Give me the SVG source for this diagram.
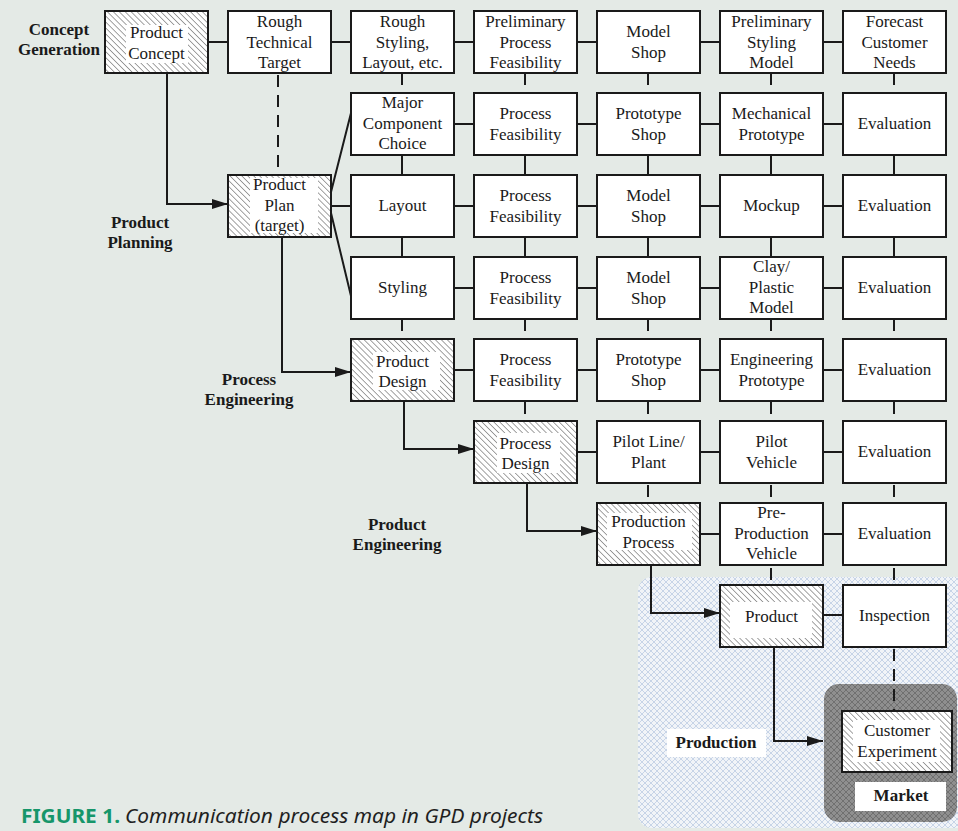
<svg xmlns="http://www.w3.org/2000/svg" width="958" height="831" viewBox="0 0 958 831">
<defs>
<style>
.bx{fill:#fff;stroke:#1a1a1a;stroke-width:2}
.hb{fill:url(#hatch);stroke:none}
.in{fill:#fff;stroke:none}
.fr{fill:none;stroke:#1a1a1a;stroke-width:2}
.t{font-family:"Liberation Serif","Times New Roman",serif;font-size:17px;fill:#1a1a1a;text-anchor:middle}
.lb{font-family:"Liberation Serif","Times New Roman",serif;font-size:17px;font-weight:bold;fill:#1a1a1a;text-anchor:middle}
.c{fill:none;stroke:#1a1a1a;stroke-width:2}
.d{fill:none;stroke:#1a1a1a;stroke-width:2;stroke-dasharray:12 8}
.a{fill:none;stroke:#1a1a1a;stroke-width:2;marker-end:url(#ah)}
</style>
<pattern id="hatch" width="4.2" height="4.2" patternUnits="userSpaceOnUse" patternTransform="rotate(-45)">
<rect width="4.2" height="4.2" fill="#fff"/>
<line x1="0" y1="0" x2="0" y2="4.2" stroke="#333" stroke-width="0.9"/>
</pattern>
<pattern id="xh" width="6" height="6" patternUnits="userSpaceOnUse">
<rect width="6" height="6" fill="#f1f4f8"/>
<path d="M0,0 L6,6 M6,0 L0,6" stroke="#bccbe2" stroke-width="0.8"/>
</pattern>
<pattern id="xhd" width="6" height="6" patternUnits="userSpaceOnUse">
<rect width="6" height="6" fill="#8f8f8f"/>
<path d="M0,0 L6,6 M6,0 L0,6" stroke="#6c6c6c" stroke-width="0.9"/>
</pattern>
<marker id="ah" markerWidth="16" markerHeight="10" refX="16" refY="5" orient="auto" markerUnits="userSpaceOnUse">
<path d="M0,0 L16,5 L0,10 z" fill="#1a1a1a"/>
</marker>
</defs>

<rect x="0" y="0" width="958" height="831" fill="#e4eae6"/>

<g id="regions">
<rect x="638" y="577" width="332" height="251" rx="14" fill="url(#xh)"/>
<rect x="824" y="684" width="133" height="138" rx="15" fill="url(#xhd)"/>
<rect x="667" y="729" width="99" height="28" fill="#fff"/>
<text class="lb" x="716" y="748">Production</text>
<rect x="855" y="782" width="91" height="29" fill="#fff"/>
<text class="lb" x="901" y="801">Market</text>
</g>

<g id="stage-labels">
<text class="lb" x="59" y="35">Concept</text>
<text class="lb" x="59" y="55">Generation</text>
<text class="lb" x="140" y="228">Product</text>
<text class="lb" x="140" y="248">Planning</text>
<text class="lb" x="249" y="385">Process</text>
<text class="lb" x="249" y="405">Engineering</text>
<text class="lb" x="397" y="530">Product</text>
<text class="lb" x="397" y="550">Engineering</text>
</g>

<g id="connectors">
<!-- row 0 horizontals -->
<path class="c" d="M208,42H228M331,42H351M454,42H474M577,42H597M700,42H720M823,42H843"/>
<!-- row 1 -->
<path class="c" d="M454,124H474M577,124H597M700,124H720M823,124H843"/>
<!-- row 2 -->
<path class="c" d="M331,206H351M454,206H474M577,206H597M700,206H720M823,206H843"/>
<!-- row 3 -->
<path class="c" d="M454,288H474M577,288H597M700,288H720M823,288H843"/>
<!-- row 4 -->
<path class="c" d="M454,370H474M577,370H597M700,370H720M823,370H843"/>
<!-- row 5 -->
<path class="c" d="M577,452H597M700,452H720M823,452H843"/>
<!-- row 6 -->
<path class="c" d="M700,534H720M823,534H843"/>
<!-- row 7 -->
<path class="c" d="M823,615H843"/>
<!-- diagonals from Product Plan -->
<path class="c" d="M331,192L351,113M331,213L351,296"/>
<!-- vertical stubs -->
<path class="c" d="M402,73V85M525,73V85M648,73V85M771,73V85M894,73V85"/>
<path class="c" d="M402,155V175M525,155V175M648,155V175M771,155V175M894,155V175"/>
<path class="c" d="M402,237V257M525,237V257M648,237V257M771,237V257M894,237V257"/>
<path class="c" d="M402,319V331M525,319V331M648,319V331M771,319V331M894,319V331"/>
<path class="c" d="M525,402V414M648,402V414M771,402V414M894,402V414"/>
<path class="c" d="M648,485V497M771,485V497M894,485V497"/>
<path class="c" d="M771,568V580M894,568V580"/>
<!-- dashed -->
<path class="d" d="M278,75V175"/>
<path class="d" d="M894,649V710"/>
<!-- arrows -->
<path class="a" d="M167,73V204H228"/>
<path class="a" d="M282,237V372H351"/>
<path class="a" d="M404,401V449H474"/>
<path class="a" d="M527,483V531H597"/>
<path class="a" d="M651,565V613H720"/>
<path class="a" d="M774,647V741H823"/>
</g>

<g id="n-product-concept">
<rect class="hb" x="105" y="11" width="103" height="62"/>
<rect class="in" x="126" y="25" width="62" height="38"/>
<rect class="fr" x="105" y="11" width="103" height="62"/>
<text class="t" x="156.5" y="38">Product</text>
<text class="t" x="156.5" y="59">Concept</text>
</g>
<g id="n-rough-technical-target">
<rect class="bx" x="228" y="11" width="103" height="62"/>
<text class="t" x="279.5" y="27">Rough</text>
<text class="t" x="279.5" y="48">Technical</text>
<text class="t" x="279.5" y="68">Target</text>
</g>
<g id="n-rough-styling">
<rect class="bx" x="351" y="11" width="103" height="62"/>
<text class="t" x="402.5" y="27">Rough</text>
<text class="t" x="402.5" y="48">Styling,</text>
<text class="t" x="402.5" y="68">Layout, etc.</text>
</g>
<g id="n-prelim-process-feasibility">
<rect class="bx" x="474" y="11" width="103" height="62"/>
<text class="t" x="525.5" y="27">Preliminary</text>
<text class="t" x="525.5" y="48">Process</text>
<text class="t" x="525.5" y="68">Feasibility</text>
</g>
<g id="n-model-shop-0">
<rect class="bx" x="597" y="11" width="103" height="62"/>
<text class="t" x="648.5" y="37">Model</text>
<text class="t" x="648.5" y="58">Shop</text>
</g>
<g id="n-prelim-styling-model">
<rect class="bx" x="720" y="11" width="103" height="62"/>
<text class="t" x="771.5" y="27">Preliminary</text>
<text class="t" x="771.5" y="48">Styling</text>
<text class="t" x="771.5" y="68">Model</text>
</g>
<g id="n-forecast-customer-needs">
<rect class="bx" x="843" y="11" width="103" height="62"/>
<text class="t" x="894.5" y="27">Forecast</text>
<text class="t" x="894.5" y="48">Customer</text>
<text class="t" x="894.5" y="68">Needs</text>
</g>

<g id="n-major-component-choice">
<rect class="bx" x="351" y="93" width="103" height="62"/>
<text class="t" x="402.5" y="108">Major</text>
<text class="t" x="402.5" y="129">Component</text>
<text class="t" x="402.5" y="149">Choice</text>
</g>
<g id="n-process-feasibility-1">
<rect class="bx" x="474" y="93" width="103" height="62"/>
<text class="t" x="525.5" y="119">Process</text>
<text class="t" x="525.5" y="140">Feasibility</text>
</g>
<g id="n-prototype-shop-1">
<rect class="bx" x="597" y="93" width="103" height="62"/>
<text class="t" x="648.5" y="119">Prototype</text>
<text class="t" x="648.5" y="140">Shop</text>
</g>
<g id="n-mechanical-prototype">
<rect class="bx" x="720" y="93" width="103" height="62"/>
<text class="t" x="771.5" y="119">Mechanical</text>
<text class="t" x="771.5" y="140">Prototype</text>
</g>
<g id="n-evaluation-1">
<rect class="bx" x="843" y="93" width="103" height="62"/>
<text class="t" x="894.5" y="129">Evaluation</text>
</g>

<g id="n-product-plan">
<rect class="hb" x="228" y="175" width="103" height="62"/>
<rect class="in" x="250" y="178" width="68" height="55"/>
<rect class="fr" x="228" y="175" width="103" height="62"/>
<text class="t" x="279.5" y="190">Product</text>
<text class="t" x="279.5" y="211">Plan</text>
<text class="t" x="279.5" y="231">(target)</text>
</g>
<g id="n-layout">
<rect class="bx" x="351" y="175" width="103" height="62"/>
<text class="t" x="402.5" y="211">Layout</text>
</g>
<g id="n-process-feasibility-2">
<rect class="bx" x="474" y="175" width="103" height="62"/>
<text class="t" x="525.5" y="201">Process</text>
<text class="t" x="525.5" y="222">Feasibility</text>
</g>
<g id="n-model-shop-2">
<rect class="bx" x="597" y="175" width="103" height="62"/>
<text class="t" x="648.5" y="201">Model</text>
<text class="t" x="648.5" y="222">Shop</text>
</g>
<g id="n-mockup">
<rect class="bx" x="720" y="175" width="103" height="62"/>
<text class="t" x="771.5" y="211">Mockup</text>
</g>
<g id="n-evaluation-2">
<rect class="bx" x="843" y="175" width="103" height="62"/>
<text class="t" x="894.5" y="211">Evaluation</text>
</g>

<g id="n-styling">
<rect class="bx" x="351" y="257" width="103" height="62"/>
<text class="t" x="402.5" y="293">Styling</text>
</g>
<g id="n-process-feasibility-3">
<rect class="bx" x="474" y="257" width="103" height="62"/>
<text class="t" x="525.5" y="283">Process</text>
<text class="t" x="525.5" y="304">Feasibility</text>
</g>
<g id="n-model-shop-3">
<rect class="bx" x="597" y="257" width="103" height="62"/>
<text class="t" x="648.5" y="283">Model</text>
<text class="t" x="648.5" y="304">Shop</text>
</g>
<g id="n-clay-plastic-model">
<rect class="bx" x="720" y="257" width="103" height="62"/>
<text class="t" x="771.5" y="272">Clay/</text>
<text class="t" x="771.5" y="293">Plastic</text>
<text class="t" x="771.5" y="313">Model</text>
</g>
<g id="n-evaluation-3">
<rect class="bx" x="843" y="257" width="103" height="62"/>
<text class="t" x="894.5" y="293">Evaluation</text>
</g>

<g id="n-product-design">
<rect class="hb" x="351" y="339" width="103" height="62"/>
<rect class="in" x="373" y="352" width="67" height="38"/>
<rect class="fr" x="351" y="339" width="103" height="62"/>
<text class="t" x="402.5" y="367">Product</text>
<text class="t" x="402.5" y="387">Design</text>
</g>
<g id="n-process-feasibility-4">
<rect class="bx" x="474" y="339" width="103" height="62"/>
<text class="t" x="525.5" y="365">Process</text>
<text class="t" x="525.5" y="386">Feasibility</text>
</g>
<g id="n-prototype-shop-4">
<rect class="bx" x="597" y="339" width="103" height="62"/>
<text class="t" x="648.5" y="365">Prototype</text>
<text class="t" x="648.5" y="386">Shop</text>
</g>
<g id="n-engineering-prototype">
<rect class="bx" x="720" y="339" width="103" height="62"/>
<text class="t" x="771.5" y="365">Engineering</text>
<text class="t" x="771.5" y="386">Prototype</text>
</g>
<g id="n-evaluation-4">
<rect class="bx" x="843" y="339" width="103" height="62"/>
<text class="t" x="894.5" y="375">Evaluation</text>
</g>

<g id="n-process-design">
<rect class="hb" x="474" y="421" width="103" height="62"/>
<rect class="in" x="497" y="433" width="63" height="40"/>
<rect class="fr" x="474" y="421" width="103" height="62"/>
<text class="t" x="525.5" y="449">Process</text>
<text class="t" x="525.5" y="469">Design</text>
</g>
<g id="n-pilot-line-plant">
<rect class="bx" x="597" y="421" width="103" height="62"/>
<text class="t" x="648.5" y="447">Pilot Line/</text>
<text class="t" x="648.5" y="468">Plant</text>
</g>
<g id="n-pilot-vehicle">
<rect class="bx" x="720" y="421" width="103" height="62"/>
<text class="t" x="771.5" y="447">Pilot</text>
<text class="t" x="771.5" y="468">Vehicle</text>
</g>
<g id="n-evaluation-5">
<rect class="bx" x="843" y="421" width="103" height="62"/>
<text class="t" x="894.5" y="457">Evaluation</text>
</g>

<g id="n-production-process">
<rect class="hb" x="597" y="503" width="103" height="62"/>
<rect class="in" x="607" y="513" width="85" height="37"/>
<rect class="fr" x="597" y="503" width="103" height="62"/>
<text class="t" x="648.5" y="527">Production</text>
<text class="t" x="648.5" y="548">Process</text>
</g>
<g id="n-pre-production-vehicle">
<rect class="bx" x="720" y="503" width="103" height="62"/>
<text class="t" x="771.5" y="518">Pre-</text>
<text class="t" x="771.5" y="539">Production</text>
<text class="t" x="771.5" y="559">Vehicle</text>
</g>
<g id="n-evaluation-6">
<rect class="bx" x="843" y="503" width="103" height="62"/>
<text class="t" x="894.5" y="539">Evaluation</text>
</g>

<g id="n-product">
<rect class="hb" x="720" y="585" width="103" height="62"/>
<rect class="in" x="730" y="602" width="82" height="36"/>
<rect class="fr" x="720" y="585" width="103" height="62"/>
<text class="t" x="771.5" y="622">Product</text>
</g>
<g id="n-inspection">
<rect class="bx" x="843" y="585" width="103" height="62"/>
<text class="t" x="894.5" y="621">Inspection</text>
</g>

<g id="n-customer-experiment">
<rect class="hb" x="842" y="711" width="110" height="61"/>
<rect class="in" x="853" y="720" width="87" height="42"/>
<rect class="fr" x="842" y="711" width="110" height="61"/>
<text class="t" x="897" y="736">Customer</text>
<text class="t" x="897" y="757">Experiment</text>
</g>

<g id="caption">
<text y="823" style="font-family:'Noto Sans','Open Sans',sans-serif;font-size:19px">
<tspan x="21" textLength="99" lengthAdjust="spacingAndGlyphs" style="font-weight:bold;fill:#16966a">FIGURE 1.</tspan>
<tspan x="125" textLength="418" lengthAdjust="spacingAndGlyphs" style="font-style:italic;fill:#1f1f1f">Communication process map in GPD projects</tspan>
</text>
</g>
</svg>
